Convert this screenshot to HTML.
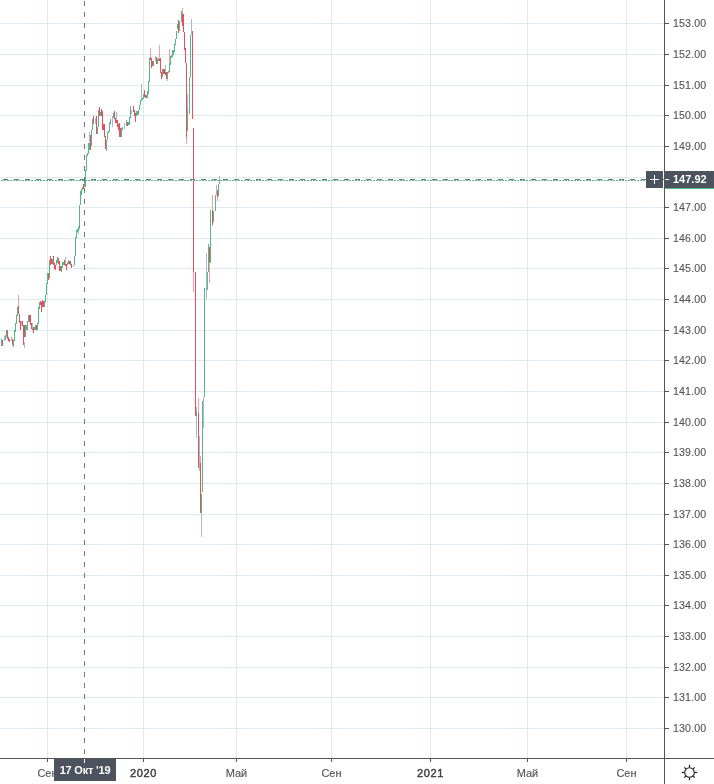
<!DOCTYPE html>
<html><head><meta charset="utf-8"><style>
html,body{margin:0;padding:0;background:#fff;width:714px;height:784px;overflow:hidden;position:relative}
text{font-family:"Liberation Sans",sans-serif;font-size:11px}
.pl{fill:#555555;stroke:#555555;stroke-width:0.12px;font-size:10.6px;letter-spacing:0.15px}
.tm{fill:#555555;stroke:#555555;stroke-width:0.15px}
.ty{fill:#404040;stroke:#404040;stroke-width:0.45px;letter-spacing:0.6px}
.cl{fill:#fff;font-weight:bold;letter-spacing:-0.2px}
.cp{fill:#fff;font-weight:bold}
</style></head><body>
<svg width="714" height="784" viewBox="0 0 714 784" shape-rendering="crispEdges" style="position:absolute;left:0;top:0">
<rect x="0" y="23" width="664" height="1" fill="#dfeaef"/>
<rect x="0" y="54" width="664" height="1" fill="#dfeaef"/>
<rect x="0" y="85" width="664" height="1" fill="#dfeaef"/>
<rect x="0" y="115" width="664" height="1" fill="#dfeaef"/>
<rect x="0" y="146" width="664" height="1" fill="#dfeaef"/>
<rect x="0" y="177" width="664" height="1" fill="#dfeaef"/>
<rect x="0" y="207" width="664" height="1" fill="#dfeaef"/>
<rect x="0" y="238" width="664" height="1" fill="#dfeaef"/>
<rect x="0" y="268" width="664" height="1" fill="#dfeaef"/>
<rect x="0" y="299" width="664" height="1" fill="#dfeaef"/>
<rect x="0" y="330" width="664" height="1" fill="#dfeaef"/>
<rect x="0" y="360" width="664" height="1" fill="#dfeaef"/>
<rect x="0" y="391" width="664" height="1" fill="#dfeaef"/>
<rect x="0" y="422" width="664" height="1" fill="#dfeaef"/>
<rect x="0" y="452" width="664" height="1" fill="#dfeaef"/>
<rect x="0" y="483" width="664" height="1" fill="#dfeaef"/>
<rect x="0" y="514" width="664" height="1" fill="#dfeaef"/>
<rect x="0" y="544" width="664" height="1" fill="#dfeaef"/>
<rect x="0" y="575" width="664" height="1" fill="#dfeaef"/>
<rect x="0" y="605" width="664" height="1" fill="#dfeaef"/>
<rect x="0" y="636" width="664" height="1" fill="#dfeaef"/>
<rect x="0" y="667" width="664" height="1" fill="#dfeaef"/>
<rect x="0" y="697" width="664" height="1" fill="#dfeaef"/>
<rect x="0" y="728" width="664" height="1" fill="#dfeaef"/>
<rect x="47" y="0" width="1" height="758" fill="#dfeaef"/>
<rect x="143" y="0" width="1" height="758" fill="#dfeaef"/>
<rect x="236" y="0" width="1" height="758" fill="#dfeaef"/>
<rect x="331" y="0" width="1" height="758" fill="#dfeaef"/>
<rect x="430" y="0" width="1" height="758" fill="#dfeaef"/>
<rect x="527" y="0" width="1" height="758" fill="#dfeaef"/>
<rect x="626" y="0" width="1" height="758" fill="#dfeaef"/>
<rect x="21" y="321" width="1" height="5" fill="#eb4d5c"/>
<rect x="24" y="325" width="1" height="12" fill="#eb4d5c"/>
<rect x="26" y="325" width="1" height="5" fill="#53b987"/>
<rect x="29" y="315" width="1" height="7" fill="#eb4d5c"/>
<rect x="32" y="327" width="1" height="3" fill="#eb4d5c"/>
<rect x="34" y="327" width="1" height="3" fill="#53b987"/>
<rect x="43" y="301" width="1" height="6" fill="#eb4d5c"/>
<rect x="51" y="259" width="1" height="5" fill="#eb4d5c"/>
<rect x="60" y="266" width="1" height="5" fill="#eb4d5c"/>
<rect x="63" y="262" width="1" height="3" fill="#53b987"/>
<rect x="65" y="263" width="1" height="3" fill="#eb4d5c"/>
<rect x="69" y="261" width="1" height="3" fill="#eb4d5c"/>
<rect x="77" y="229" width="1" height="3" fill="#53b987"/>
<rect x="89" y="143" width="1" height="7" fill="#53b987"/>
<rect x="103" y="124" width="1" height="6" fill="#eb4d5c"/>
<rect x="108" y="131" width="1" height="2" fill="#53b987"/>
<rect x="116" y="120" width="1" height="3" fill="#eb4d5c"/>
<rect x="120" y="128" width="1" height="9" fill="#eb4d5c"/>
<rect x="128" y="122" width="1" height="3" fill="#53b987"/>
<rect x="137" y="111" width="1" height="4" fill="#53b987"/>
<rect x="141" y="99" width="1" height="2" fill="#53b987"/>
<rect x="146" y="95" width="1" height="3" fill="#53b987"/>
<rect x="152" y="61" width="1" height="5" fill="#eb4d5c"/>
<rect x="159" y="58" width="1" height="3" fill="#eb4d5c"/>
<rect x="163" y="69" width="1" height="5" fill="#eb4d5c"/>
<rect x="165" y="72" width="1" height="3" fill="#eb4d5c"/>
<rect x="168" y="71" width="1" height="2" fill="#53b987"/>
<rect x="171" y="55" width="1" height="3" fill="#53b987"/>
<rect x="1" y="339" width="1" height="7" fill="#53b987"/>
<rect x="2" y="340" width="1" height="6" fill="#eb4d5c"/>
<rect x="4" y="336" width="1" height="5" fill="#a7bcc8"/>
<rect x="5" y="335" width="1" height="5" fill="#53b987"/>
<rect x="6" y="330" width="1" height="7" fill="#53b987"/>
<rect x="7" y="330" width="1" height="9" fill="#eb4d5c"/>
<rect x="8" y="337" width="1" height="4" fill="#eb4d5c"/>
<rect x="9" y="339" width="1" height="3" fill="#eb4d5c"/>
<rect x="11" y="337" width="1" height="4" fill="#a7bcc8"/>
<rect x="12" y="339" width="1" height="6" fill="#eb4d5c"/>
<rect x="13" y="340" width="1" height="7" fill="#53b987"/>
<rect x="14" y="330" width="1" height="11" fill="#53b987"/>
<rect x="15" y="323" width="1" height="9" fill="#53b987"/>
<rect x="16" y="315" width="1" height="9" fill="#53b987"/>
<rect x="17" y="307" width="1" height="9" fill="#53b987"/>
<rect x="18" y="295" width="1" height="11" fill="#f4a0a8"/>
<rect x="18" y="306" width="1" height="8" fill="#eb4d5c"/>
<rect x="19" y="314" width="1" height="9" fill="#eb4d5c"/>
<rect x="20" y="321" width="1" height="9" fill="#eb4d5c"/>
<rect x="21" y="321" width="1" height="5" fill="#a7bcc8"/>
<rect x="22" y="321" width="1" height="5" fill="#eb4d5c"/>
<rect x="23" y="325" width="1" height="20" fill="#eb4d5c"/>
<rect x="24" y="342" width="1" height="6" fill="#a7bcc8"/>
<rect x="25" y="325" width="1" height="12" fill="#53b987"/>
<rect x="27" y="321" width="1" height="9" fill="#53b987"/>
<rect x="28" y="315" width="1" height="7" fill="#53b987"/>
<rect x="30" y="315" width="1" height="10" fill="#eb4d5c"/>
<rect x="31" y="323" width="1" height="6" fill="#eb4d5c"/>
<rect x="32" y="323" width="1" height="6" fill="#a7bcc8"/>
<rect x="33" y="327" width="1" height="6" fill="#eb4d5c"/>
<rect x="35" y="325" width="1" height="5" fill="#53b987"/>
<rect x="36" y="325" width="1" height="5" fill="#eb4d5c"/>
<rect x="37" y="323" width="1" height="7" fill="#53b987"/>
<rect x="38" y="307" width="1" height="17" fill="#53b987"/>
<rect x="39" y="302" width="1" height="7" fill="#53b987"/>
<rect x="40" y="301" width="1" height="4" fill="#eb4d5c"/>
<rect x="41" y="302" width="1" height="10" fill="#eb4d5c"/>
<rect x="42" y="300" width="1" height="7" fill="#eb4d5c"/>
<rect x="44" y="301" width="1" height="6" fill="#53b987"/>
<rect x="45" y="295" width="1" height="7" fill="#53b987"/>
<rect x="46" y="283" width="1" height="12" fill="#53b987"/>
<rect x="47" y="273" width="1" height="11" fill="#53b987"/>
<rect x="48" y="273" width="1" height="7" fill="#eb4d5c"/>
<rect x="49" y="260" width="1" height="18" fill="#53b987"/>
<rect x="50" y="256" width="1" height="9" fill="#eb4d5c"/>
<rect x="52" y="259" width="1" height="5" fill="#53b987"/>
<rect x="53" y="256" width="1" height="9" fill="#eb4d5c"/>
<rect x="54" y="263" width="1" height="6" fill="#eb4d5c"/>
<rect x="55" y="265" width="1" height="5" fill="#eb4d5c"/>
<rect x="56" y="260" width="1" height="5" fill="#53b987"/>
<rect x="57" y="257" width="1" height="6" fill="#53b987"/>
<rect x="58" y="258" width="1" height="6" fill="#eb4d5c"/>
<rect x="59" y="261" width="1" height="10" fill="#eb4d5c"/>
<rect x="61" y="266" width="1" height="6" fill="#53b987"/>
<rect x="62" y="262" width="1" height="6" fill="#53b987"/>
<rect x="64" y="260" width="1" height="5" fill="#eb4d5c"/>
<rect x="65" y="257" width="1" height="7" fill="#a7bcc8"/>
<rect x="66" y="264" width="1" height="6" fill="#eb4d5c"/>
<rect x="67" y="262" width="1" height="3" fill="#53b987"/>
<rect x="68" y="260" width="1" height="4" fill="#53b987"/>
<rect x="70" y="261" width="1" height="4" fill="#eb4d5c"/>
<rect x="71" y="264" width="1" height="4" fill="#eb4d5c"/>
<rect x="73" y="265" width="1" height="2" fill="#a7bcc8"/>
<rect x="74" y="256" width="1" height="9" fill="#53b987"/>
<rect x="75" y="237" width="1" height="19" fill="#53b987"/>
<rect x="76" y="230" width="1" height="8" fill="#53b987"/>
<rect x="78" y="226" width="1" height="8" fill="#a7bcc8"/>
<rect x="78" y="228" width="1" height="3" fill="#53b987"/>
<rect x="79" y="205" width="1" height="24" fill="#53b987"/>
<rect x="80" y="191" width="1" height="14" fill="#53b987"/>
<rect x="81" y="189" width="1" height="6" fill="#53b987"/>
<rect x="82" y="187" width="1" height="3" fill="#53b987"/>
<rect x="83" y="184" width="1" height="5" fill="#eb4d5c"/>
<rect x="84" y="180" width="1" height="7" fill="#53b987"/>
<rect x="85" y="170" width="1" height="17" fill="#53b987"/>
<rect x="86" y="155" width="1" height="16" fill="#53b987"/>
<rect x="87" y="153" width="1" height="3" fill="#53b987"/>
<rect x="88" y="143" width="1" height="11" fill="#53b987"/>
<rect x="89" y="132" width="1" height="10" fill="#a7bcc8"/>
<rect x="90" y="135" width="1" height="15" fill="#eb4d5c"/>
<rect x="91" y="130" width="1" height="16" fill="#53b987"/>
<rect x="92" y="119" width="1" height="11" fill="#53b987"/>
<rect x="93" y="116" width="1" height="8" fill="#eb4d5c"/>
<rect x="95" y="118" width="1" height="6" fill="#a7bcc8"/>
<rect x="96" y="116" width="1" height="18" fill="#eb4d5c"/>
<rect x="97" y="127" width="1" height="7" fill="#53b987"/>
<rect x="98" y="110" width="1" height="17" fill="#53b987"/>
<rect x="99" y="107" width="1" height="9" fill="#eb4d5c"/>
<rect x="100" y="112" width="1" height="4" fill="#53b987"/>
<rect x="101" y="109" width="1" height="7" fill="#eb4d5c"/>
<rect x="102" y="111" width="1" height="19" fill="#eb4d5c"/>
<rect x="104" y="124" width="1" height="13" fill="#eb4d5c"/>
<rect x="105" y="136" width="1" height="13" fill="#eb4d5c"/>
<rect x="106" y="140" width="1" height="11" fill="#53b987"/>
<rect x="107" y="132" width="1" height="8" fill="#53b987"/>
<rect x="109" y="122" width="1" height="10" fill="#53b987"/>
<rect x="110" y="119" width="1" height="5" fill="#53b987"/>
<rect x="112" y="116" width="1" height="11" fill="#a7bcc8"/>
<rect x="113" y="113" width="1" height="5" fill="#53b987"/>
<rect x="114" y="111" width="1" height="8" fill="#eb4d5c"/>
<rect x="115" y="118" width="1" height="5" fill="#eb4d5c"/>
<rect x="116" y="112" width="1" height="8" fill="#a7bcc8"/>
<rect x="117" y="120" width="1" height="7" fill="#eb4d5c"/>
<rect x="118" y="124" width="1" height="6" fill="#eb4d5c"/>
<rect x="119" y="123" width="1" height="14" fill="#eb4d5c"/>
<rect x="121" y="128" width="1" height="9" fill="#53b987"/>
<rect x="122" y="127" width="1" height="3" fill="#53b987"/>
<rect x="124" y="123" width="1" height="6" fill="#a7bcc8"/>
<rect x="126" y="120" width="1" height="6" fill="#53b987"/>
<rect x="127" y="122" width="1" height="4" fill="#eb4d5c"/>
<rect x="129" y="117" width="1" height="8" fill="#53b987"/>
<rect x="130" y="106" width="1" height="12" fill="#53b987"/>
<rect x="131" y="110" width="1" height="4" fill="#a7bcc8"/>
<rect x="133" y="106" width="1" height="6" fill="#eb4d5c"/>
<rect x="134" y="110" width="1" height="6" fill="#eb4d5c"/>
<rect x="135" y="113" width="1" height="9" fill="#eb4d5c"/>
<rect x="136" y="111" width="1" height="5" fill="#53b987"/>
<rect x="138" y="110" width="1" height="5" fill="#53b987"/>
<rect x="139" y="105" width="1" height="5" fill="#53b987"/>
<rect x="140" y="100" width="1" height="5" fill="#53b987"/>
<rect x="141" y="84" width="1" height="16" fill="#a7bcc8"/>
<rect x="142" y="98" width="1" height="2" fill="#53b987"/>
<rect x="143" y="94" width="1" height="5" fill="#53b987"/>
<rect x="144" y="90" width="1" height="7" fill="#eb4d5c"/>
<rect x="145" y="95" width="1" height="3" fill="#eb4d5c"/>
<rect x="147" y="91" width="1" height="7" fill="#53b987"/>
<rect x="148" y="81" width="1" height="13" fill="#53b987"/>
<rect x="149" y="58" width="1" height="24" fill="#53b987"/>
<rect x="150" y="48" width="1" height="9" fill="#f4a0a8"/>
<rect x="150" y="57" width="1" height="3" fill="#eb4d5c"/>
<rect x="151" y="58" width="1" height="10" fill="#eb4d5c"/>
<rect x="153" y="61" width="1" height="5" fill="#53b987"/>
<rect x="155" y="56" width="1" height="5" fill="#a7bcc8"/>
<rect x="156" y="57" width="1" height="7" fill="#eb4d5c"/>
<rect x="157" y="59" width="1" height="5" fill="#53b987"/>
<rect x="158" y="58" width="1" height="3" fill="#53b987"/>
<rect x="159" y="45" width="1" height="14" fill="#f4a0a8"/>
<rect x="160" y="58" width="1" height="15" fill="#eb4d5c"/>
<rect x="161" y="72" width="1" height="7" fill="#eb4d5c"/>
<rect x="162" y="69" width="1" height="8" fill="#53b987"/>
<rect x="164" y="69" width="1" height="5" fill="#eb4d5c"/>
<rect x="165" y="65" width="1" height="7" fill="#a7bcc8"/>
<rect x="166" y="72" width="1" height="7" fill="#eb4d5c"/>
<rect x="167" y="77" width="1" height="4" fill="#a7bcc8"/>
<rect x="167" y="72" width="1" height="7" fill="#53b987"/>
<rect x="169" y="49" width="1" height="16" fill="#f4a0a8"/>
<rect x="169" y="63" width="1" height="9" fill="#53b987"/>
<rect x="170" y="56" width="1" height="9" fill="#53b987"/>
<rect x="172" y="50" width="1" height="7" fill="#53b987"/>
<rect x="173" y="50" width="1" height="5" fill="#53b987"/>
<rect x="174" y="44" width="1" height="8" fill="#53b987"/>
<rect x="175" y="39" width="1" height="6" fill="#53b987"/>
<rect x="176" y="31" width="1" height="8" fill="#53b987"/>
<rect x="177" y="24" width="1" height="5" fill="#53b987"/>
<rect x="178" y="20" width="1" height="13" fill="#eb4d5c"/>
<rect x="179" y="21" width="1" height="10" fill="#53b987"/>
<rect x="181" y="11" width="1" height="11" fill="#53b987"/>
<rect x="182" y="8" width="1" height="6" fill="#f4a0a8"/>
<rect x="182" y="14" width="1" height="12" fill="#eb4d5c"/>
<rect x="183" y="14" width="1" height="18" fill="#eb4d5c"/>
<rect x="184" y="32" width="1" height="18" fill="#eb4d5c"/>
<rect x="185" y="48" width="1" height="15" fill="#eb4d5c"/>
<rect x="186" y="63" width="1" height="74" fill="#eb4d5c"/>
<rect x="186" y="137" width="1" height="7" fill="#f4a0a8"/>
<rect x="187" y="94" width="1" height="16" fill="#a7bcc8"/>
<rect x="187" y="110" width="1" height="21" fill="#53b987"/>
<rect x="189" y="77" width="1" height="37" fill="#53b987"/>
<rect x="190" y="35" width="1" height="42" fill="#53b987"/>
<rect x="191" y="19" width="1" height="16" fill="#a7bcc8"/>
<rect x="192" y="31" width="1" height="88" fill="#eb4d5c"/>
<rect x="193" y="128" width="1" height="144" fill="#eb4d5c"/>
<rect x="193" y="272" width="1" height="20" fill="#f4a0a8"/>
<rect x="195" y="272" width="1" height="144" fill="#eb4d5c"/>
<rect x="196" y="407" width="1" height="31" fill="#a7bcc8"/>
<rect x="196" y="412" width="1" height="4" fill="#53b987"/>
<rect x="198" y="398" width="1" height="15" fill="#f4a0a8"/>
<rect x="198" y="413" width="1" height="55" fill="#eb4d5c"/>
<rect x="199" y="436" width="1" height="35" fill="#a7bcc8"/>
<rect x="200" y="456" width="1" height="7" fill="#f4a0a8"/>
<rect x="200" y="463" width="1" height="50" fill="#eb4d5c"/>
<rect x="201" y="513" width="1" height="24" fill="#a7bcc8"/>
<rect x="201" y="494" width="1" height="19" fill="#53b987"/>
<rect x="202" y="401" width="1" height="91" fill="#53b987"/>
<rect x="203" y="397" width="1" height="31" fill="#a7bcc8"/>
<rect x="204" y="288" width="1" height="109" fill="#53b987"/>
<rect x="206" y="253" width="1" height="46" fill="#a7bcc8"/>
<rect x="207" y="272" width="1" height="18" fill="#53b987"/>
<rect x="208" y="244" width="1" height="28" fill="#53b987"/>
<rect x="209" y="262" width="1" height="21" fill="#f4a0a8"/>
<rect x="209" y="247" width="1" height="15" fill="#eb4d5c"/>
<rect x="210" y="210" width="1" height="53" fill="#53b987"/>
<rect x="212" y="195" width="1" height="15" fill="#f4a0a8"/>
<rect x="212" y="210" width="1" height="15" fill="#eb4d5c"/>
<rect x="213" y="211" width="1" height="11" fill="#53b987"/>
<rect x="215" y="195" width="1" height="16" fill="#53b987"/>
<rect x="216" y="185" width="1" height="10" fill="#a7bcc8"/>
<rect x="217" y="197" width="1" height="4" fill="#f4a0a8"/>
<rect x="217" y="190" width="1" height="7" fill="#eb4d5c"/>
<rect x="218" y="184" width="1" height="12" fill="#53b987"/>
<rect x="219" y="176" width="1" height="4" fill="#a7bcc8"/>
<rect x="219" y="180" width="1" height="4" fill="#53b987"/>
<line x1="0" y1="180.5" x2="664" y2="180.5" stroke="#53b987" stroke-width="1" stroke-dasharray="2 1" stroke-dashoffset="2"/>
<line x1="0" y1="179.5" x2="664" y2="179.5" stroke="#777" stroke-width="1" stroke-dasharray="5 6" stroke-dashoffset="-3"/>
<line x1="84.5" y1="0" x2="84.5" y2="758" stroke="#777" stroke-width="1" stroke-dasharray="5 6" stroke-dashoffset="-1"/>
<rect x="664" y="0" width="1" height="784" fill="#555555"/>
<rect x="0" y="758" width="714" height="1" fill="#555555"/>
</svg>
<svg width="714" height="784" viewBox="0 0 714 784" style="position:absolute;left:0;top:0;will-change:transform">
<rect x="665" y="23" width="4" height="1" fill="#555555" shape-rendering="crispEdges"/>
<text x="673" y="27" class="pl">153.00</text>
<rect x="665" y="54" width="4" height="1" fill="#555555" shape-rendering="crispEdges"/>
<text x="673" y="58" class="pl">152.00</text>
<rect x="665" y="85" width="4" height="1" fill="#555555" shape-rendering="crispEdges"/>
<text x="673" y="89" class="pl">151.00</text>
<rect x="665" y="115" width="4" height="1" fill="#555555" shape-rendering="crispEdges"/>
<text x="673" y="119" class="pl">150.00</text>
<rect x="665" y="146" width="4" height="1" fill="#555555" shape-rendering="crispEdges"/>
<text x="673" y="150" class="pl">149.00</text>
<rect x="665" y="207" width="4" height="1" fill="#555555" shape-rendering="crispEdges"/>
<text x="673" y="211" class="pl">147.00</text>
<rect x="665" y="238" width="4" height="1" fill="#555555" shape-rendering="crispEdges"/>
<text x="673" y="242" class="pl">146.00</text>
<rect x="665" y="268" width="4" height="1" fill="#555555" shape-rendering="crispEdges"/>
<text x="673" y="272" class="pl">145.00</text>
<rect x="665" y="299" width="4" height="1" fill="#555555" shape-rendering="crispEdges"/>
<text x="673" y="303" class="pl">144.00</text>
<rect x="665" y="330" width="4" height="1" fill="#555555" shape-rendering="crispEdges"/>
<text x="673" y="334" class="pl">143.00</text>
<rect x="665" y="360" width="4" height="1" fill="#555555" shape-rendering="crispEdges"/>
<text x="673" y="364" class="pl">142.00</text>
<rect x="665" y="391" width="4" height="1" fill="#555555" shape-rendering="crispEdges"/>
<text x="673" y="395" class="pl">141.00</text>
<rect x="665" y="422" width="4" height="1" fill="#555555" shape-rendering="crispEdges"/>
<text x="673" y="426" class="pl">140.00</text>
<rect x="665" y="452" width="4" height="1" fill="#555555" shape-rendering="crispEdges"/>
<text x="673" y="456" class="pl">139.00</text>
<rect x="665" y="483" width="4" height="1" fill="#555555" shape-rendering="crispEdges"/>
<text x="673" y="487" class="pl">138.00</text>
<rect x="665" y="514" width="4" height="1" fill="#555555" shape-rendering="crispEdges"/>
<text x="673" y="518" class="pl">137.00</text>
<rect x="665" y="544" width="4" height="1" fill="#555555" shape-rendering="crispEdges"/>
<text x="673" y="548" class="pl">136.00</text>
<rect x="665" y="575" width="4" height="1" fill="#555555" shape-rendering="crispEdges"/>
<text x="673" y="579" class="pl">135.00</text>
<rect x="665" y="605" width="4" height="1" fill="#555555" shape-rendering="crispEdges"/>
<text x="673" y="609" class="pl">134.00</text>
<rect x="665" y="636" width="4" height="1" fill="#555555" shape-rendering="crispEdges"/>
<text x="673" y="640" class="pl">133.00</text>
<rect x="665" y="667" width="4" height="1" fill="#555555" shape-rendering="crispEdges"/>
<text x="673" y="671" class="pl">132.00</text>
<rect x="665" y="697" width="4" height="1" fill="#555555" shape-rendering="crispEdges"/>
<text x="673" y="701" class="pl">131.00</text>
<rect x="665" y="728" width="4" height="1" fill="#555555" shape-rendering="crispEdges"/>
<text x="673" y="732" class="pl">130.00</text>
<rect x="47" y="759" width="1" height="3" fill="#555555" shape-rendering="crispEdges"/>
<text x="47.5" y="777" text-anchor="middle" class="tm">Сен</text>
<rect x="143" y="759" width="1" height="3" fill="#555555" shape-rendering="crispEdges"/>
<text x="143.5" y="777" text-anchor="middle" class="ty">2020</text>
<rect x="236" y="759" width="1" height="3" fill="#555555" shape-rendering="crispEdges"/>
<text x="236.5" y="777" text-anchor="middle" class="tm">Май</text>
<rect x="331" y="759" width="1" height="3" fill="#555555" shape-rendering="crispEdges"/>
<text x="331.5" y="777" text-anchor="middle" class="tm">Сен</text>
<rect x="430" y="759" width="1" height="3" fill="#555555" shape-rendering="crispEdges"/>
<text x="430.5" y="777" text-anchor="middle" class="ty">2021</text>
<rect x="527" y="759" width="1" height="3" fill="#555555" shape-rendering="crispEdges"/>
<text x="527.5" y="777" text-anchor="middle" class="tm">Май</text>
<rect x="626" y="759" width="1" height="3" fill="#555555" shape-rendering="crispEdges"/>
<text x="626.5" y="777" text-anchor="middle" class="tm">Сен</text>
<rect x="54" y="759" width="62" height="22" fill="#4c525e" shape-rendering="crispEdges"/>
<rect x="84" y="759" width="1" height="4" fill="#ffffff" shape-rendering="crispEdges"/>
<text x="85" y="774" text-anchor="middle" class="cl">17 Окт '19</text>
<rect x="665" y="171" width="49" height="17" fill="#4c525e" shape-rendering="crispEdges"/>
<rect x="665" y="188" width="49" height="1" fill="#53b987" shape-rendering="crispEdges"/>
<rect x="665" y="179" width="4" height="1" fill="#ffffff" shape-rendering="crispEdges"/>
<text x="673" y="183" class="cp">147.92</text>
<rect x="646" y="171" width="17" height="17" fill="#4c525e" shape-rendering="crispEdges"/>
<rect x="650" y="179" width="9" height="1" fill="#ffffff" shape-rendering="crispEdges"/>
<rect x="654" y="175" width="1" height="9" fill="#ffffff" shape-rendering="crispEdges"/>
<circle cx="689.5" cy="772.5" r="4.8" fill="none" stroke="#131722" stroke-width="1.05"/>
<line x1="694.70" y1="772.50" x2="697.20" y2="772.50" stroke="#131722" stroke-width="1.2"/>
<line x1="693.18" y1="776.18" x2="694.66" y2="777.66" stroke="#131722" stroke-width="1.2"/>
<line x1="689.50" y1="777.70" x2="689.50" y2="780.20" stroke="#131722" stroke-width="1.2"/>
<line x1="685.82" y1="776.18" x2="684.34" y2="777.66" stroke="#131722" stroke-width="1.2"/>
<line x1="684.30" y1="772.50" x2="681.80" y2="772.50" stroke="#131722" stroke-width="1.2"/>
<line x1="685.82" y1="768.82" x2="684.34" y2="767.34" stroke="#131722" stroke-width="1.2"/>
<line x1="689.50" y1="767.30" x2="689.50" y2="764.80" stroke="#131722" stroke-width="1.2"/>
<line x1="693.18" y1="768.82" x2="694.66" y2="767.34" stroke="#131722" stroke-width="1.2"/>
</svg>
</body></html>
